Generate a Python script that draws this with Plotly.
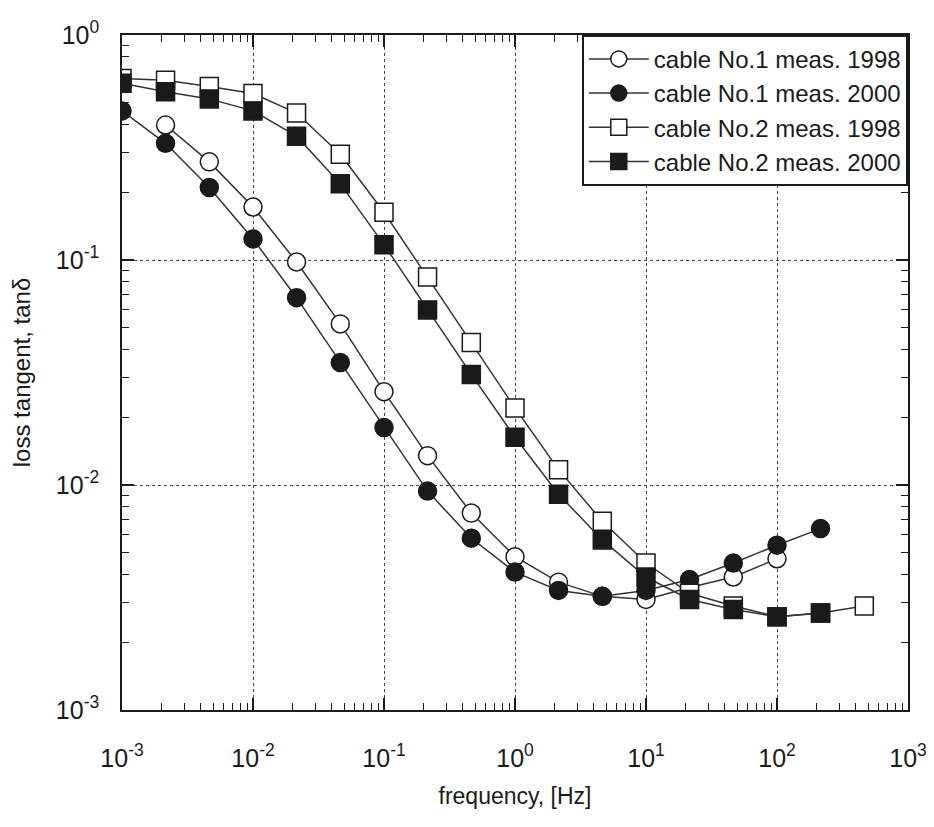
import plotly.graph_objects as go

freq = [0.001, 0.00215, 0.00464, 0.01, 0.0215, 0.0464, 0.1, 0.215, 0.464,
        1.0, 2.15, 4.64, 10.0, 21.5, 46.4, 100.0, 215.0, 464.0]

# cable No.1, 1998 (open circles), first visible point at 2.15e-3
c1_1998_f = freq[1:16]
c1_1998 = [0.398, 0.273, 0.172, 0.098, 0.052, 0.026, 0.0135, 0.0075,
           0.0048, 0.0037, 0.0032, 0.0031, 0.0035, 0.0039, 0.0047]

# cable No.1, 2000 (filled circles)
c1_2000_f = freq[0:17]
c1_2000 = [0.46, 0.33, 0.21, 0.124, 0.068, 0.035, 0.018, 0.0094, 0.0058,
           0.0041, 0.0034, 0.0032, 0.0034, 0.0038, 0.0045, 0.0054, 0.0064]

# cable No.2, 1998 (open squares)
c2_1998_f = freq[0:18]
c2_1998 = [0.64, 0.63, 0.59, 0.55, 0.45, 0.295, 0.163, 0.084, 0.043, 0.022,
           0.0117, 0.0069, 0.0045, 0.0033, 0.0029, 0.0026, 0.0027, 0.0029]

# cable No.2, 2000 (filled squares)
c2_2000_f = freq[0:17]
c2_2000 = [0.61, 0.56, 0.52, 0.46, 0.355, 0.218, 0.117, 0.060, 0.031, 0.0163,
           0.0091, 0.0057, 0.0039, 0.0031, 0.0028, 0.0026, 0.0027]

names = ["cable No.1 meas. 1998", "cable No.1 meas. 2000",
         "cable No.2 meas. 1998", "cable No.2 meas. 2000"]

x_tick_vals = [1e-3, 1e-2, 1e-1, 1e0, 1e1, 1e2, 1e3]
x_tick_text = ["10<sup>-3</sup>", "10<sup>-2</sup>", "10<sup>-1</sup>", "10<sup>0</sup>",
               "10<sup>1</sup>", "10<sup>2</sup>", "10<sup>3</sup>"]
y_tick_vals = [1e-3, 1e-2, 1e-1, 1e0]
y_tick_text = ["10<sup>-3</sup>", "10<sup>-2</sup>", "10<sup>-1</sup>", "10<sup>0</sup>"]

# minor ticks at 2..9 within each decade
x_minor = [m * 10.0 ** e for e in range(-3, 3) for m in range(2, 10)]
y_minor = [m * 10.0 ** e for e in range(-3, 0) for m in range(2, 10)]

ink = "#1a1a1a"
font = "Liberation Sans, Arial, sans-serif"

series = [
    (c1_1998_f, c1_1998, "circle", "white"),
    (c1_2000_f, c1_2000, "circle", ink),
    (c2_1998_f, c2_1998, "square", "white"),
    (c2_2000_f, c2_2000, "square", ink),
]

fig = go.Figure()
for (xs, ys, sym, fill), name in zip(series, names):
    fig.add_trace(go.Scatter(
        x=xs, y=ys, mode="lines+markers", name=name,
        line=dict(color="#333333", width=1.5),
        marker=dict(symbol=sym, size=18, color=fill,
                    line=dict(color=ink, width=1.5)),
    ))

axis_common = dict(
    type="log", showline=True, linecolor=ink, linewidth=1.6, mirror="allticks",
    ticks="inside", ticklen=12, tickcolor=ink, tickwidth=1.5,
    showgrid=True, gridcolor="#444444", griddash="dot", gridwidth=1.4,
    zeroline=False, automargin=False, ticklabeloverflow="allow",
    tickfont=dict(family=font, size=25, color=ink),
)

fig.update_xaxes(range=[-3, 3], tickmode="array", tickvals=x_tick_vals, ticktext=x_tick_text,
                 ticklabelstandoff=25,
                 minor=dict(tickmode="array", tickvals=x_minor, ticks="inside", ticklen=7,
                            tickcolor=ink, tickwidth=1.2, showgrid=False),
                 title=dict(text="frequency, [Hz]", standoff=17,
                            font=dict(family=font, size=23, color=ink)),
                 **axis_common)
fig.update_yaxes(range=[-3, 0], tickmode="array", tickvals=y_tick_vals, ticktext=y_tick_text,
                 ticklabelstandoff=16,
                 minor=dict(tickmode="array", tickvals=y_minor, ticks="inside", ticklen=7,
                            tickcolor=ink, tickwidth=1.2, showgrid=False),
                 title=dict(text="loss tangent, tanδ", standoff=20,
                            font=dict(family=font, size=24, color=ink)),
                 **axis_common)

# the page body adds 8px around the figure
fig.update_layout(
    width=920, height=811,
    margin=dict(l=114, r=20, t=27, b=109),
    paper_bgcolor="white", plot_bgcolor="white",
    legend=dict(x=1, y=1, xanchor="right", yanchor="top",
                bgcolor="white", bordercolor=ink, borderwidth=1.8,
                font=dict(family=font, size=24, color=ink),
                itemwidth=60, tracegroupgap=0),
)

fig.write_html("out.html")
